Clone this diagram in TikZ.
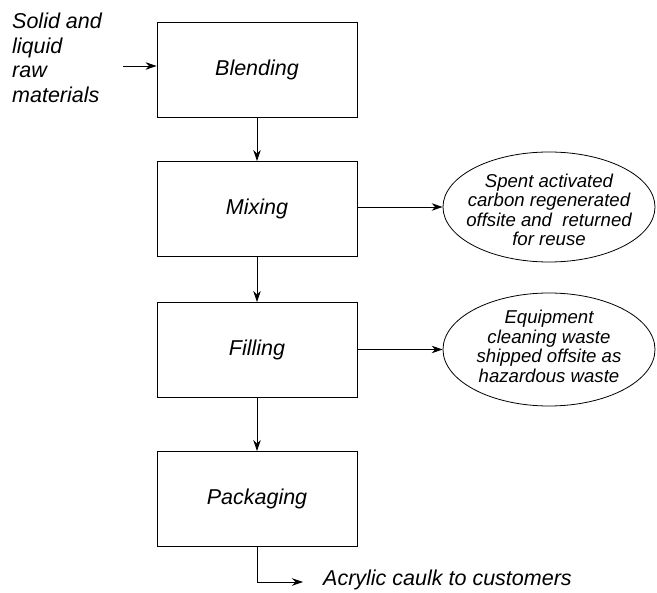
\documentclass[tikz,border=0pt]{standalone}
\usepackage{fontspec}
\setmainfont{Liberation Sans}
\usetikzlibrary{shapes.geometric,arrows.meta}
\begin{document}
\begin{tikzpicture}[x=1pt,y=-1pt,
  every node/.style={font=\fontsize{21.5}{24.5}\selectfont\itshape},
  procbox/.style={draw,line width=0.9pt,minimum width=200pt,minimum height=95pt,inner sep=0pt},
  wastell/.style={draw,ellipse,line width=0.8pt,minimum width=212pt,minimum height=110pt,inner sep=0pt},
  wastetext/.style={align=center,inner sep=0pt,font=\fontsize{18.6}{19.5}\selectfont\itshape},
  arr/.style={line width=0.9pt,-{Stealth[length=11pt,width=7.5pt]}}]
\useasboundingbox (0,0) rectangle (657,593);
\node[procbox] (blend) at (257,69.5) {Blending};
\node[procbox] (mix) at (257,209) {Mixing};
\node[procbox] (fill) at (257,350) {Filling};
\node[procbox] (pack) at (257,499) {Packaging};
\node[wastell] (w1) at (549,207) {};
\node[wastetext] (w1t) at (549,210) {Spent activated\\carbon regenerated\\offsite and\ \ returned\\for reuse};
\node[wastell,minimum height=113pt] (w2) at (549,349.5) {};
\node[wastetext] (w2t) at (549,346.5) {Equipment\\cleaning waste\\shipped offsite as\\hazardous waste};
\node[anchor=north west,align=left,inner sep=0pt] (raw) at (12,13) {Solid and\\liquid\\raw\\materials};
\coordinate (in) at (123,66);
\coordinate (out) at (303,582);
\node[anchor=west,inner sep=0pt] (prod) at (323,580) {Acrylic caulk to customers};
\draw[arr] (in) -- (in -| blend.west);
\draw[arr] (blend.south) -- (mix.north);
\draw[arr] (mix.south) -- (fill.north);
\draw[arr] (fill.south) -- (pack.north);
\draw[arr] (mix.east |- w1.west) -- (w1.west);
\draw[arr] (fill.east |- w2.west) -- (w2.west);
\draw[arr] (pack.south) |- (out);
\end{tikzpicture}
\end{document}
